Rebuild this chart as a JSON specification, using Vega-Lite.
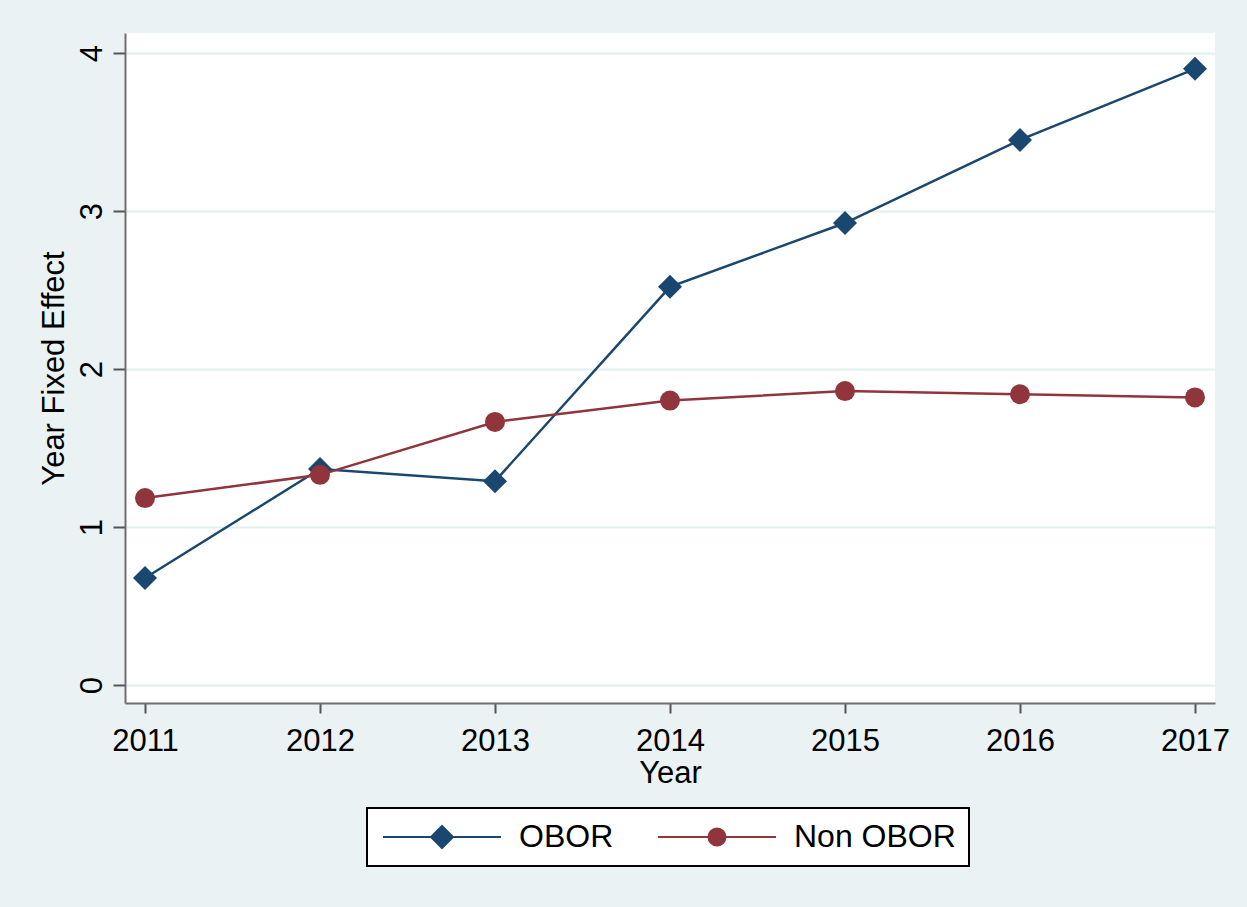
{
  "$schema": "https://vega.github.io/schema/vega-lite/v6.json",
  "width": 1090,
  "height": 670,
  "autosize": {"type": "none"},
  "padding": {"left": 125, "top": 33, "right": 32, "bottom": 204},
  "background": "#eaf2f3",
  "config": {
    "view": {"fill": "white", "stroke": null},
    "font": "Liberation Sans",
    "axis": {
      "labelFont": "Liberation Sans",
      "titleFont": "Liberation Sans",
      "labelFontSize": 31,
      "titleFontSize": 31,
      "titleFontWeight": "normal",
      "labelColor": "#000000",
      "titleColor": "#000000",
      "domainColor": "#6e6e6e",
      "domainWidth": 2,
      "tickColor": "#555555",
      "tickWidth": 2,
      "gridColor": "#e4eef0",
      "gridWidth": 2
    }
  },
  "data": {
    "values": [
      {"year": 2011, "value": 0.677, "series": "OBOR"},
      {"year": 2012, "value": 1.367, "series": "OBOR"},
      {"year": 2013, "value": 1.29, "series": "OBOR"},
      {"year": 2014, "value": 2.52, "series": "OBOR"},
      {"year": 2015, "value": 2.924, "series": "OBOR"},
      {"year": 2016, "value": 3.45, "series": "OBOR"},
      {"year": 2017, "value": 3.9, "series": "OBOR"},
      {"year": 2011, "value": 1.183, "series": "Non OBOR"},
      {"year": 2012, "value": 1.33, "series": "Non OBOR"},
      {"year": 2013, "value": 1.665, "series": "Non OBOR"},
      {"year": 2014, "value": 1.8, "series": "Non OBOR"},
      {"year": 2015, "value": 1.86, "series": "Non OBOR"},
      {"year": 2016, "value": 1.84, "series": "Non OBOR"},
      {"year": 2017, "value": 1.82, "series": "Non OBOR"}
    ]
  },
  "encoding": {
    "x": {
      "field": "year",
      "type": "quantitative",
      "title": "Year",
      "scale": {"domain": [2010.8857, 2017.1143], "nice": false, "zero": false},
      "axis": {
        "values": [2011, 2012, 2013, 2014, 2015, 2016, 2017],
        "format": "d",
        "grid": false,
        "tickSize": 10,
        "labelPadding": 13,
        "titlePadding": 2,
        "labelFlush": false
      }
    },
    "y": {
      "field": "value",
      "type": "quantitative",
      "title": "Year Fixed Effect",
      "scale": {"domain": [-0.1139, 4.1266], "nice": false, "zero": false},
      "axis": {
        "values": [0, 1, 2, 3, 4],
        "grid": true,
        "tickSize": 12,
        "labelAngle": -90,
        "labelAlign": "center",
        "labelBaseline": "bottom",
        "labelPadding": 5,
        "titlePadding": 6
      }
    },
    "color": {
      "field": "series",
      "type": "nominal",
      "scale": {"domain": ["OBOR", "Non OBOR"], "range": ["#1a476f", "#90353b"]},
      "legend": {
        "title": null,
        "orient": "none",
        "legendX": 242,
        "legendY": 775,
        "direction": "horizontal",
        "symbolSize": 400,
        "symbolStrokeWidth": 2,
        "labelFont": "Liberation Sans",
        "labelFontSize": 32,
        "labelColor": "#000000",
        "labelLimit": 500,
        "labelOffset": 107,
        "columnPadding": 40,
        "padding": 13,
        "strokeColor": "#000000",
        "fillColor": "#ffffff",
        "encode": {
          "legend": {"update": {"strokeWidth": {"value": 2}}},
          "symbols": {
            "update": {
              "shape": {"signal": "datum.value === 'OBOR' ? 'M-1.3,0L10.5,0M4.6,-1.1L5.7,0L4.6,1.1L3.5,0Z' : 'M-1.3,0L10.5,0M3.75,0A0.85,0.85,0,1,0,5.45,0A0.85,0.85,0,1,0,3.75,0Z'"},
              "fill": {"signal": "datum.value === 'OBOR' ? '#1a476f' : '#90353b'"},
              "stroke": {"signal": "datum.value === 'OBOR' ? '#1a476f' : '#90353b'"},
              "strokeWidth": {"value": 2},
              "opacity": {"value": 1}
            }
          }
        }
      }
    }
  },
  "layer": [
    {
      "transform": [{"filter": "datum.series === 'OBOR'"}],
      "mark": {"type": "line", "strokeWidth": 2.5}
    },
    {
      "transform": [{"filter": "datum.series === 'OBOR'"}],
      "mark": {"type": "point", "shape": "diamond", "filled": true, "size": 576, "opacity": 1}
    },
    {
      "transform": [{"filter": "datum.series === 'Non OBOR'"}],
      "mark": {"type": "line", "strokeWidth": 2.5}
    },
    {
      "transform": [{"filter": "datum.series === 'Non OBOR'"}],
      "mark": {"type": "point", "shape": "circle", "filled": true, "size": 400, "opacity": 1}
    }
  ]
}
